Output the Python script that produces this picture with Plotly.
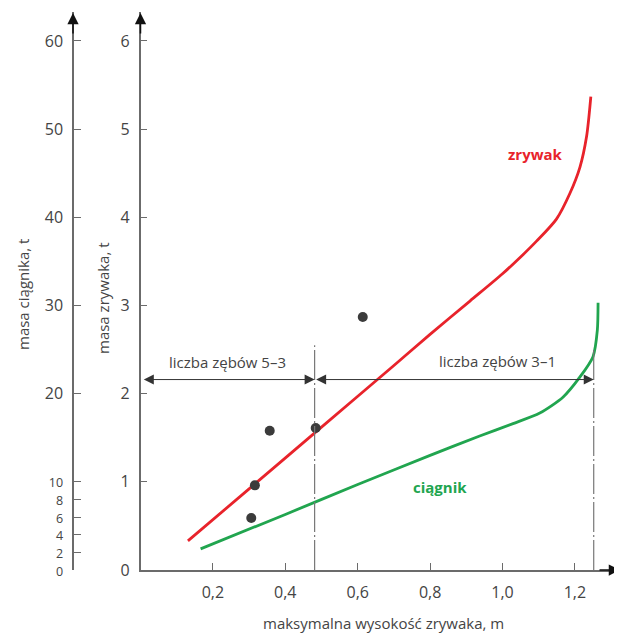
import plotly.graph_objects as go

# --- data ---
zrywak_x = [0.131, 0.30, 0.50, 0.70, 0.799, 0.910, 1.000, 1.050, 1.094, 1.149, 1.186, 1.214, 1.232, 1.244]
zrywak_y = [0.33, 0.92, 1.62, 2.32, 2.67, 3.05, 3.36, 3.55, 3.73, 3.98, 4.27, 4.57, 4.91, 5.37]

ciagnik_x = [0.166, 0.40, 0.60, 0.80, 0.937, 1.029, 1.103, 1.167, 1.214, 1.250, 1.262, 1.264]
ciagnik_y = [0.24, 0.63, 0.97, 1.30, 1.52, 1.66, 1.78, 1.96, 2.19, 2.42, 2.72, 3.03]

dots_x = [0.306, 0.316, 0.357, 0.484, 0.614]
dots_y = [0.59, 0.96, 1.58, 1.61, 2.87]

x_ticks = [0.2, 0.4, 0.6, 0.8, 1.0, 1.2]
x_ticktext = ["0,2", "0,4", "0,6", "0,8", "1,0", "1,2"]
y_ticks = [0, 1, 2, 3, 4, 5, 6]
y2_ticks = [0, 2, 4, 6, 8, 10, 20, 30, 40, 50, 60]

split_x = [0.481, 1.252]   # boundaries between tooth-count ranges
arrow_y = 2.16
zone_labels = ["liczba zębów 5–3", "liczba zębów 3–1"]

FONT = "Open Sans"
RED = "#e8232b"
GREEN = "#21a54f"
AX = "#6b6b6b"

OFF = 8  # browser body margin
W, H = 622 - OFF, 635 - OFF
x0_px = 140.5 - OFF          # x=0 position in figure px
ml, mr = 0, 0
mt = 12 - OFF
mb = H - (570 - OFF)
plot_top, plot_bot = mt, H - mb
px_per_x = 362.0
px_per_y = 88.17
xmax = (W - x0_px) / px_per_x
ymax = (plot_bot - plot_top) / px_per_y


def pxx(px):
    """reference screen x -> paper x"""
    return (px - OFF - ml) / (W - ml - mr)


def pxy(py):
    """reference screen y -> paper y"""
    return (plot_bot - (py - OFF)) / (plot_bot - plot_top)


fig = go.Figure()
fig.add_trace(go.Scatter(x=zrywak_x, y=zrywak_y, mode="lines",
                         line=dict(color=RED, width=2.8, shape="spline", smoothing=0.8),
                         hoverinfo="skip", showlegend=False))
fig.add_trace(go.Scatter(x=ciagnik_x, y=ciagnik_y, mode="lines",
                         line=dict(color=GREEN, width=2.8, shape="spline", smoothing=0.7),
                         hoverinfo="skip", showlegend=False))
fig.add_trace(go.Scatter(x=dots_x, y=dots_y, mode="markers",
                         marker=dict(color="#3b3b3b", size=10),
                         hoverinfo="skip", showlegend=False))
# invisible trace for the secondary axis
fig.add_trace(go.Scatter(x=[0], y=[0], yaxis="y2", mode="markers",
                         marker=dict(opacity=0), hoverinfo="skip", showlegend=False))

y2_text = []
for v in y2_ticks:
    if v <= 10:
        y2_text.append(f"<span style='font-size:12.5px'>{v}</span>")
    else:
        y2_text.append(str(v))

fig.update_layout(
    width=W, height=H,
    margin=dict(l=ml, r=mr, t=mt, b=mb, pad=0),
    paper_bgcolor="white", plot_bgcolor="white",
    font=dict(family=FONT, color="#444", size=16),
    xaxis=dict(domain=[x0_px / W, 1], range=[0, xmax], showgrid=False, zeroline=False,
               showline=True, linecolor=AX, linewidth=1.5,
               ticks="inside", ticklen=7, tickcolor=AX, tickwidth=1.2,
               tickvals=x_ticks, ticktext=x_ticktext, ticklabelstandoff=7,
               tickfont=dict(size=16, color="#444")),
    yaxis=dict(range=[0, ymax], showgrid=False, zeroline=False, anchor="x",
               showline=True, linecolor=AX, linewidth=1.5,
               ticks="inside", ticklen=7, tickcolor=AX, tickwidth=1.2,
               tickvals=y_ticks, ticklabelstandoff=6,
               tickfont=dict(size=16, color="#444")),
    yaxis2=dict(range=[0, ymax * 10], overlaying="y", anchor="free", position=pxx(73),
                side="left", showgrid=False, zeroline=False,
                showline=True, linecolor=AX, linewidth=1.5,
                ticks="inside", ticklen=7, tickcolor=AX, tickwidth=1.2,
                tickvals=y2_ticks, ticktext=y2_text, ticklabelstandoff=6,
                tickfont=dict(size=16, color="#444")),
)

# dash-dot vertical boundaries
fig.add_shape(type="line", x0=split_x[0], x1=split_x[0], y0=0, y1=2.55, xref="x", yref="y",
              line=dict(color="#777", width=1.2, dash="30px,3px,2px,3px"))
fig.add_shape(type="line", x0=split_x[1], x1=split_x[1], y0=0, y1=2.5, xref="x", yref="y",
              line=dict(color="#777", width=1.2, dash="30px,3px,2px,3px"))

# dimension arrows
fig.add_annotation(x=split_x[0], y=arrow_y, ax=0.005, ay=arrow_y, axref="x", ayref="y",
                   xref="x", yref="y", text="", showarrow=True, arrowside="end+start",
                   arrowhead=2, arrowsize=2, arrowwidth=1, arrowcolor="#333")
fig.add_annotation(x=split_x[1], y=arrow_y, ax=split_x[0], ay=arrow_y, axref="x", ayref="y",
                   xref="x", yref="y", text="", showarrow=True, arrowside="end+start",
                   arrowhead=2, arrowsize=2, arrowwidth=1, arrowcolor="#333")
fig.add_annotation(x=0.241, y=2.36, xref="x", yref="y", text=zone_labels[0], showarrow=False,
                   xanchor="center", yanchor="middle",
                   font=dict(size=15, color="#444", family=FONT))
fig.add_annotation(x=0.985, y=2.37, xref="x", yref="y", text=zone_labels[1], showarrow=False,
                   xanchor="center", yanchor="middle",
                   font=dict(size=15, color="#444", family=FONT))

# series labels
fig.add_annotation(x=1.092, y=4.72, xref="x", yref="y", text="<b>zrywak</b>", showarrow=False,
                   xanchor="center", yanchor="middle",
                   font=dict(size=15, color=RED, family=FONT))
fig.add_annotation(x=0.827, y=0.94, xref="x", yref="y", text="<b>ciągnik</b>", showarrow=False,
                   xanchor="center", yanchor="middle",
                   font=dict(size=15, color=GREEN, family=FONT))

# axis arrows
tip_y = (570 - 13) / px_per_y
fig.add_annotation(x=(620 - 140.5) / px_per_x, y=0, xref="x", yref="y", ax=-22, ay=0,
                   text="", showarrow=True, arrowhead=2, arrowsize=1.5, arrowwidth=1.5,
                   arrowcolor="#111")
fig.add_annotation(x=0, y=tip_y, xref="x", yref="y", ax=0, ay=22,
                   text="", showarrow=True, arrowhead=2, arrowsize=1.5, arrowwidth=1.5,
                   arrowcolor="#111")
fig.add_annotation(x=pxx(73), y=tip_y, xref="paper", yref="y", ax=0, ay=22,
                   text="", showarrow=True, arrowhead=2, arrowsize=1.5, arrowwidth=1.5,
                   arrowcolor="#111")

# axis titles
fig.add_annotation(x=pxx(383), y=pxy(623), xref="paper", yref="paper",
                   xanchor="center", yanchor="middle",
                   text="maksymalna wysokość zrywaka, m", showarrow=False,
                   font=dict(size=15, color="#444", family=FONT))
fig.add_annotation(x=pxx(23), y=pxy(295), xref="paper", yref="paper", textangle=-90,
                   xanchor="center", yanchor="middle",
                   text="masa ciągnika, t", showarrow=False,
                   font=dict(size=15, color="#444", family=FONT))
fig.add_annotation(x=pxx(103), y=pxy(298), xref="paper", yref="paper", textangle=-90,
                   xanchor="center", yanchor="middle",
                   text="masa zrywaka, t", showarrow=False,
                   font=dict(size=15, color="#444", family=FONT))

fig.write_html("out.html")
